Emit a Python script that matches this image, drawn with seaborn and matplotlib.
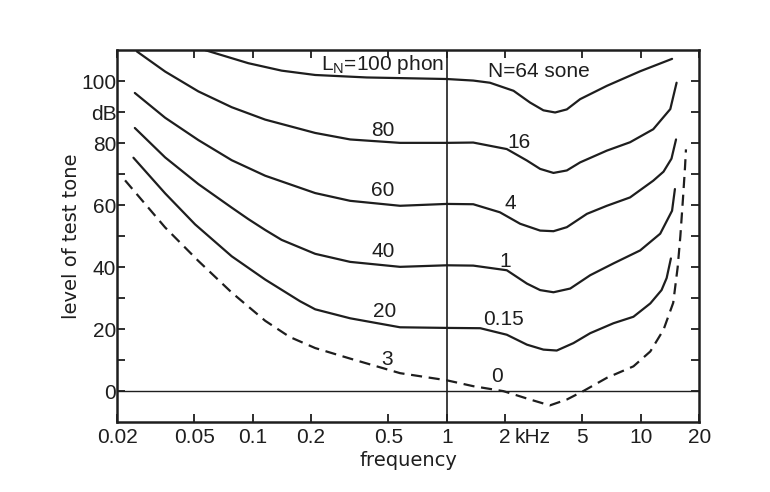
import matplotlib
matplotlib.use("Agg")
import numpy as np
import pandas as pd
import matplotlib.pyplot as plt
import seaborn as sns

# Equal-loudness contours, f in kHz, L in dB
f_100 = [0.057, 0.095, 0.141, 0.21, 0.387, 1.0, 1.37, 1.67, 2.21, 2.69, 3.15, 3.62,
         4.16, 4.87, 6.69, 9.93, 14.5]
L_100 = [110, 105.8, 103.4, 102.0, 101.2, 100.7, 100.2, 99.5, 96.9, 93.1, 90.6, 89.9,
         90.9, 94.2, 98.5, 103.2, 107.2]

f_80 = [0.0253, 0.0354, 0.0525, 0.078, 0.116, 0.21, 0.318, 0.575, 1.0, 1.37, 2.04, 2.59,
        3.03, 3.55, 4.16, 4.87, 6.69, 8.81, 11.6, 14.2, 15.3]
L_80 = [109.6, 103.1, 96.7, 91.6, 87.6, 83.3, 81.2, 80.1, 80.1, 80.2, 78.1, 74.4,
        71.7, 70.4, 71.2, 73.8, 77.6, 80.3, 84.5, 91.0, 99.5]

f_60 = [0.0247, 0.0354, 0.0525, 0.078, 0.116, 0.21, 0.318, 0.575, 1.0, 1.37, 1.88, 2.39,
        3.03, 3.55, 4.16, 5.28, 6.69, 8.81, 11.6, 13.1, 14.4, 15.2]
L_60 = [96.2, 88.2, 81.0, 74.5, 69.5, 63.9, 61.4, 59.8, 60.4, 60.3, 57.7, 54.0,
        51.8, 51.6, 52.9, 57.2, 59.8, 62.5, 67.9, 70.8, 75.0, 81.2]

f_40 = [0.0247, 0.0354, 0.0525, 0.078, 0.095, 0.116, 0.141, 0.21, 0.318, 0.575, 1.0, 1.37,
        2.04, 2.59, 3.03, 3.55, 4.33, 5.49, 7.23, 9.93, 12.6, 14.5, 15.0]
L_40 = [84.9, 75.4, 66.8, 59.2, 55.5, 52.0, 48.8, 44.3, 41.7, 40.1, 40.6, 40.5,
        39.0, 34.7, 32.6, 31.9, 33.1, 37.4, 41.2, 45.4, 50.8, 58.2, 65.2]

f_20 = [0.0243, 0.0354, 0.0505, 0.078, 0.116, 0.1755, 0.21, 0.318, 0.575, 1.0, 1.49, 2.04,
        2.59, 3.15, 3.69, 4.5, 5.49, 7.23, 9.17, 11.2, 12.8, 13.6, 14.3]
L_20 = [75.3, 63.8, 53.8, 43.5, 36.0, 29.0, 26.4, 23.5, 20.6, 20.4, 20.3, 18.2,
        15.0, 13.4, 13.1, 15.5, 18.7, 21.9, 24.0, 28.3, 32.6, 36.5, 42.8]

# threshold in quiet (dashed)
f_thr = [0.022, 0.0354, 0.0525, 0.078, 0.116, 0.155, 0.21, 0.318, 0.575, 1.0, 1.37, 1.96,
         2.69, 3.4, 4.16, 5.05, 6.69, 9.17, 11.2, 13.1, 14.7, 15.5, 16.0, 16.5, 16.9, 17.1]
L_thr = [68.0, 52.8, 42.0, 31.8, 22.7, 17.5, 13.9, 10.5, 5.8, 3.5, 1.6, 0.0,
         -2.7, -4.6, -2.7, 0.0, 4.3, 8.0, 12.8, 19.8, 28.5, 40.0, 50.0, 62.0, 72.0, 78.0]

x_ticks = [0.02, 0.05, 0.1, 0.2, 0.5, 1, 2, 5, 10, 20]
x_labels = ["0.02", "0.05", "0.1", "0.2", "0.5", "1", "2", "5", "10", "20"]
y_ticks = [0, 10, 20, 30, 40, 50, 60, 70, 80, 90, 100]
y_labels = ["0", "", "20", "", "40", "", "60", "", "80", "dB", "100"]

# curve labels: text, frequency, level
phon_labels = [("80", 0.47, 84.0), ("60", 0.47, 64.6), ("40", 0.47, 44.9),
               ("20", 0.48, 25.6), ("3", 0.49, 10.2)]
sone_labels = [("16", 2.35, 80.1), ("4", 2.12, 60.4), ("1", 2.0, 41.7),
               ("0.15", 1.96, 23.0), ("0", 1.81, 4.8)]

sns.set_style("ticks")
plt.rcParams["font.family"] = ["Liberation Sans", "DejaVu Sans"]
ink = "#1e1e1e"
num_fs = 15
word_font = dict(family="DejaVu Sans", size=14)

fig, ax = plt.subplots(figsize=(7.7, 4.92), dpi=100)
fig.subplots_adjust(left=0.152, right=0.908, bottom=0.142, top=0.898)

for f, L in [(f_100, L_100), (f_80, L_80), (f_60, L_60), (f_40, L_40), (f_20, L_20)]:
    sns.lineplot(x=f, y=L, ax=ax, color=ink, lw=1.6, sort=False)
sns.lineplot(x=f_thr, y=L_thr, ax=ax, color=ink, lw=1.6, sort=False,
             linestyle=(0, (5, 3)))

ax.axhline(0, color=ink, lw=1.0)
ax.axvline(1, color=ink, lw=1.2)

ax.set_xscale("log")
ax.set_xlim(0.02, 20)
ax.set_ylim(-10, 110)
ax.set_xticks(x_ticks)
ax.set_xticklabels(x_labels)
ax.xaxis.set_minor_locator(matplotlib.ticker.NullLocator())
ax.set_yticks(y_ticks)
ax.set_yticklabels(y_labels)

ax.tick_params(direction="in", top=True, right=True, length=6, width=1.3,
               labelsize=num_fs, colors=ink)
ax.tick_params(axis="x", pad=4)
ax.tick_params(axis="y", pad=0.5)
for s in ax.spines.values():
    s.set_linewidth(1.8)
    s.set_color(ink)

ax.annotate("kHz", xy=(2, 0), xycoords=ax.get_xaxis_transform(), xytext=(7, -4),
            textcoords="offset points", ha="left", va="top", fontsize=num_fs, color=ink)

ax.set_xlabel("frequency", fontdict=word_font, color=ink, labelpad=3)
ax.set_ylabel("level of test tone", fontdict=word_font, color=ink, labelpad=0)

ax.text(0.465, 105.5, r"L$_\mathregular{N}$=100 phon", ha="center", va="center",
        fontsize=num_fs, color=ink)
ax.text(2.98, 103.1, "N=64 sone", ha="center", va="center", fontsize=num_fs, color=ink)
for t, f, L in phon_labels + sone_labels:
    ax.text(f, L, t, ha="center", va="center", fontsize=num_fs, color=ink)

fig.savefig("out.png", dpi=100, facecolor="white")
